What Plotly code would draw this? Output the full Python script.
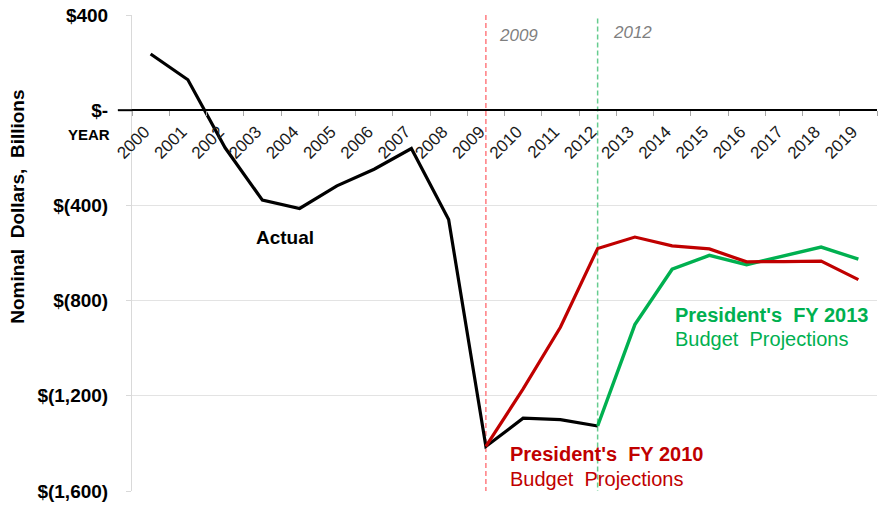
import plotly.graph_objects as go

years = [str(y) for y in range(2000, 2020)]
actual_years = [str(y) for y in range(2000, 2013)]
actual = [236, 128, -158, -378, -413, -318, -248, -161, -459, -1413, -1294, -1300, -1327]
fy2010_years = [str(y) for y in range(2009, 2020)]
fy2010 = [-1413, -1171, -912, -581, -533, -570, -583, -637, -636, -634, -712]
fy2013_years = [str(y) for y in range(2012, 2020)]
fy2013 = [-1327, -901, -668, -610, -649, -612, -575, -626]
marker_years = ["2009", "2012"]

ytickvals = [400, 0, -400, -800, -1200, -1600]
yticktext = ["$400", "$-", "$(400)", "$(800)", "$(1,200)", "$(1,600)"]

FONT = "Liberation Sans, Arial, sans-serif"
RED = "#C00000"
GREEN = "#00B050"

fig = go.Figure()
# vertical dashed reference lines drawn as traces through the category axis
fig.add_trace(go.Scatter(x=[marker_years[0], marker_years[0]], y=[400, -1600], mode="lines",
                         line=dict(color="#FF7C80", width=1.5, dash="5px,3px"), showlegend=False))
fig.add_trace(go.Scatter(x=[marker_years[1], marker_years[1]], y=[385, -1600], mode="lines",
                         line=dict(color="#66CC8F", width=1.5, dash="5px,3px"), showlegend=False))
fig.add_trace(go.Scatter(x=actual_years, y=actual, mode="lines",
                         line=dict(color="black", width=3.2), showlegend=False))
fig.add_trace(go.Scatter(x=fy2013_years, y=fy2013, mode="lines",
                         line=dict(color=GREEN, width=3.4), showlegend=False))
fig.add_trace(go.Scatter(x=fy2010_years, y=fy2010, mode="lines",
                         line=dict(color=RED, width=3.2), showlegend=False))

# zero line extension to the left of the y axis
fig.add_shape(type="line", xref="paper", yref="y", x0=-0.019, x1=0, y0=0, y1=0,
              line=dict(color="black", width=2))

fig.update_layout(
    width=881, height=505,
    margin=dict(l=132, r=4, t=15, b=14),
    paper_bgcolor="white", plot_bgcolor="white",
    font=dict(family=FONT, color="black"),
    xaxis=dict(
        type="category", categoryorder="array", categoryarray=years,
        range=[-0.5, 19.5], anchor="free", position=0.8,
        showline=True, linecolor="black", linewidth=2,
        ticks="outside", tickson="boundaries", ticklen=5, tickcolor="#A6A6A6",
        tickangle=-45, tickfont=dict(size=17, color="#1a1a1a"),
        ticklabelstandoff=4, ticklabelshift=-6,
        showgrid=False, zeroline=False,
    ),
    yaxis=dict(
        range=[-1600, 400], tickvals=ytickvals, ticktext=yticktext,
        tickfont=dict(size=19, color="black", weight="bold"),
        showgrid=True, gridcolor="#E3E3E3", gridwidth=1,
        zeroline=True, zerolinecolor="black", zerolinewidth=2,
        showline=True, linecolor="#D9D9D9", linewidth=1,
        ticks="outside", ticklen=5, tickcolor="#D9D9D9",
        ticklabelstandoff=14,
    ),
)

def ann(text, x, y, size, color, bold=False, italic=False, xanchor="left", angle=0):
    fig.add_annotation(text=text, x=x, y=y, xref="paper", yref="paper",
                       xanchor=xanchor, yanchor="middle", showarrow=False,
                       textangle=angle,
                       font=dict(family=FONT, size=size, color=color,
                                 weight="bold" if bold else "normal",
                                 style="italic" if italic else "normal"))

ann("Nominal  Dollars,  Billions", -0.153, 0.597, 19, "black", bold=True, xanchor="center", angle=-90)
ann("YEAR", -0.027, 0.75, 15, "black", bold=True, xanchor="right")
ann("Actual", 0.2054, 0.5336, 19, "black", bold=True, xanchor="center")
ann("2009", 0.4899, 0.957, 17, "#7F7F7F", italic=True)
ann("2012", 0.643, 0.964, 17, "#7F7F7F", italic=True)
ann("President's  FY 2010", 0.5047, 0.0767, 20, RED, bold=True)
ann("Budget  Projections", 0.5047, 0.0252, 20, RED)
ann("President's  FY 2013", 0.726, 0.370, 20, GREEN, bold=True)
ann("Budget  Projections", 0.726, 0.319, 20, GREEN)

fig.write_html("out.html")
